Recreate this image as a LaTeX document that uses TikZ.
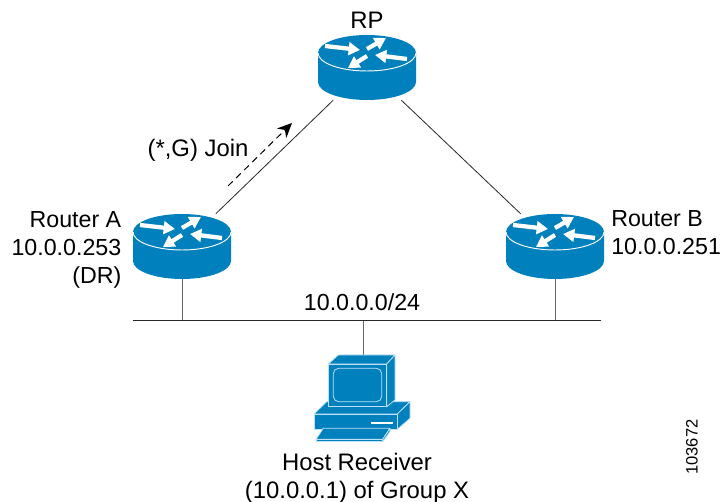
\documentclass[tikz,border=0pt]{standalone}
\usepackage{fontspec}
\setmainfont{Liberation Sans}
\usetikzlibrary{arrows.meta, backgrounds, positioning}
\definecolor{ciscoblue}{RGB}{0,128,188}
\definecolor{hostline}{RGB}{190,225,245}
\tikzset{
x=0.75pt, y=0.75pt,
>=Stealth,
wirelabel/.style={font=\fontsize{17.9}{21}\selectfont, inner sep=0pt}, % most of the texts
routerlabel/.style={font=\fontsize{17.4}{21}\selectfont, inner sep=0pt}, % the two address labels
link/.style={line width=0.6pt, black!85}, % links between the routers
drop/.style={line width=0.75pt, black!60}, % drops to the LAN
flake/.style={white, line width=3.2pt, -{Triangle[length=8.5pt, width=9.5pt]}}, % arrows on a router
hostpart/.style={fill=ciscoblue, draw=hostline, line width=0.6pt, line join=round},
router/.style={minimum width=73.5pt, minimum height=48.75pt, inner sep=0pt, path picture={
    \begin{scope}[shift={(path picture bounding box.center)}]
        \fill[ciscoblue] (-49,14.5) -- (-49,-14.5) arc[start angle=180, end angle=360, x radius=49, y radius=18] -- (49,14.5) arc[start angle=0, end angle=180, x radius=49, y radius=18] -- cycle;
        \draw[white, line width=0.7pt] (-49,14.5) arc[start angle=180, end angle=360, x radius=49, y radius=18];
        \draw[flake] (-42,21.5) -- (-7,17.5);
        \draw[flake] (0,18.5) -- (19,29.5);
        \draw[flake] (40,8.5) -- (8,12.5);
        \draw[flake] (0,11.5) -- (-19,-0.5);
    \end{scope}
}},
host/.style={minimum width=73.5pt, minimum height=65.25pt, inner sep=0pt, path picture={
    \begin{scope}[shift={(path picture bounding box.center)}]
        % base unit
        \filldraw[hostpart] (-49,-15.5) -- (-36.3,-3.2) -- (47,-3.2) -- (34.3,-15.5) -- cycle;
        \filldraw[hostpart] (34.3,-15.5) -- (47,-3.2) -- (47,-19.8) -- (34.3,-30.8) -- cycle;
        \filldraw[hostpart] (-49,-15.5) rectangle (34.3,-30.8);
        \fill[white] (8,-23.2) rectangle (30.3,-25.5);
        % monitor
        \filldraw[hostpart] (-34.7,34.5) -- (-24.7,43.5) -- (32,43.5) -- (23.7,34.5) -- cycle;
        \filldraw[hostpart] (23.7,34.5) -- (32,43.5) -- (32,-1.5) -- (23.7,-8.2) -- cycle;
        \filldraw[hostpart] (-34.7,34.5) rectangle (23.7,-8.2);
        \draw[hostline, rounded corners=4pt, line width=0.6pt] (-29.7,30.2) rectangle (18.7,-3.2);
        % keyboard
        \filldraw[hostpart] (-39.7,-29.8) -- (27,-29.8) -- (19.7,-40.8) -- (-47,-40.8) -- cycle;
        \filldraw[hostpart] (19.7,-40.8) -- (27,-29.8) -- (27,-33) -- (19.7,-43.3) -- cycle;
        \filldraw[hostpart] (-47,-40.8) rectangle (19.7,-43.3);
    \end{scope}
}},
}

\begin{document}
\begin{tikzpicture}
        \useasboundingbox (0,0) rectangle (723,502);

        % Routers and host
        \node[router] (RP) at (367,434.5) {};
        \node[router] (RouterA) at (182,255.5) {};
        \node[router] (RouterB) at (555,255.5) {};
        \node[host] (Host) at (363,103.5) {};

        % LAN ends and the join arrow
        \coordinate (lanL) at (133,182);
        \coordinate (lanR) at (601,182);
        \coordinate (joinFrom) at (228,316);
        \coordinate (joinTo) at (292,379);

        \begin{pgfonlayer}{background}
            \draw[link] (RouterA) -- (RP);
            \draw[link] (RP) -- (RouterB);
            \draw[drop] (RouterA) -- (RouterA |- lanL);
            \draw[drop] (RouterB) -- (RouterB |- lanL);
            \draw[drop] (Host.north) -- (Host.north |- lanL);
        \end{pgfonlayer}
        \draw[line width=0.6pt, black!85] (lanL) -- (lanR);
        \draw[->, line width=0.75pt, dash pattern=on 5pt off 3.5pt, >={Stealth[length=11pt, width=10pt]}] (joinFrom) -- (joinTo);

        % Labels
        \node[wirelabel] (RPtext) at (367,482) {RP};
        \node[routerlabel, anchor=east] (RouterAtext) at (121.5,252.5) {\begin{tabular}{@{}r@{}}Router A\\10.0.0.253\\(DR)\end{tabular}};
        \node[routerlabel, anchor=west, align=left] (RouterBtext) at (611,269) {Router B\\10.0.0.251};
        \node[wirelabel] (JoinText) at (198,352) {(*,G) Join};
        \node[routerlabel] (LanText) at (362,200) {10.0.0.0/24};
        \node[wirelabel, align=center] (HostText) at (357,24) {Host Receiver\\(10.0.0.1) of Group X};
        \node[font=\fontsize{12.4}{15}\selectfont, inner sep=0pt, rotate=90] (FigNum) at (692,55) {103672};
    \end{tikzpicture}
\end{document}
